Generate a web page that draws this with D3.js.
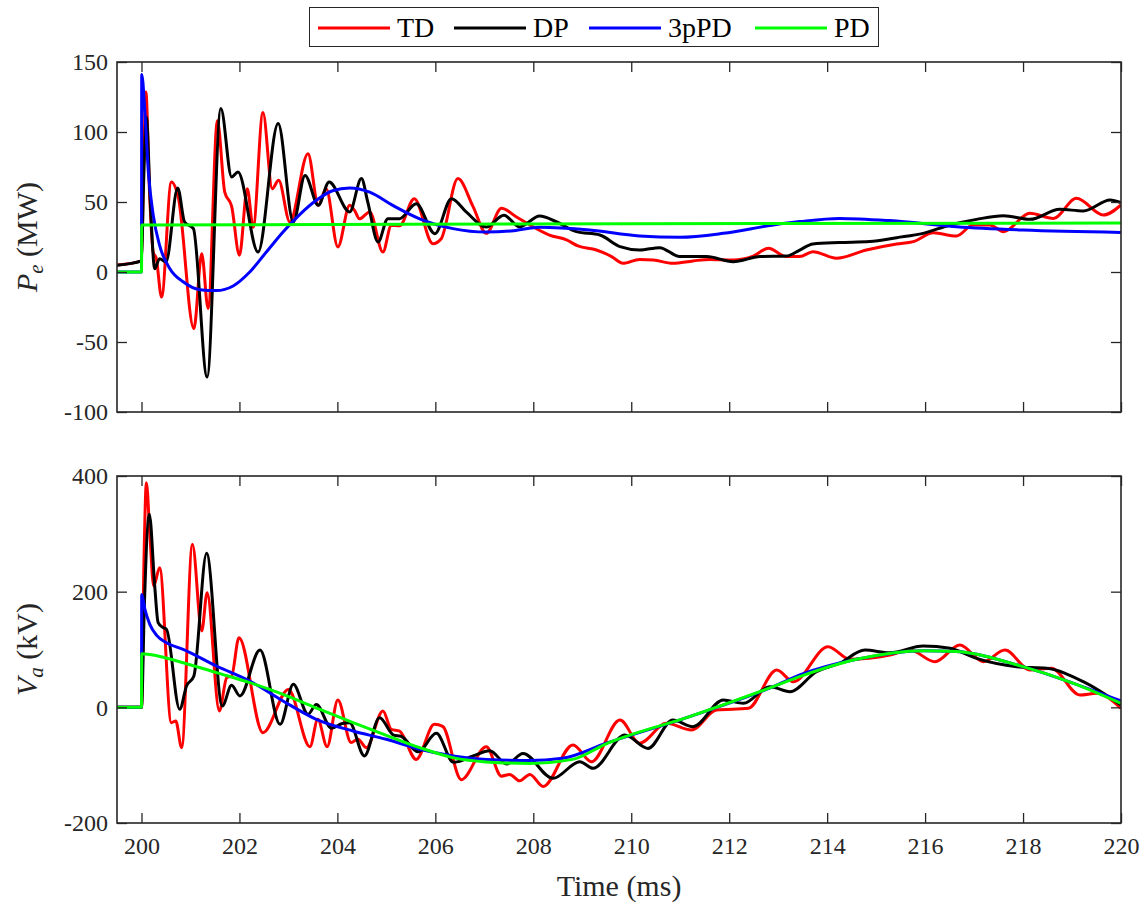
<!DOCTYPE html>
<html>
<head>
<meta charset="utf-8">
<script src="https://cdn.jsdelivr.net/npm/d3@7"></script>
<style>
  body { margin: 0; background: #fff; }
  svg { display: block; }
  .tick text { font-family: "Liberation Serif", serif; font-size: 24px; fill: #262626; }
  .tick line { stroke: #262626; stroke-width: 1.3; }
</style>
</head>
<body>
<svg id="chart"></svg>
<script>
// series names and colours, in legend order
var seriesNames = ["TD", "DP", "3pPD", "PD"];
var seriesColors = ["#ff0000", "#000000", "#0000ff", "#00ff00"];

// axis ticks
var timeTicks = [200, 202, 204, 206, 208, 210, 212, 214, 216, 218, 220];
var peTicks = [-100, -50, 0, 50, 100, 150];
var vaTicks = [-200, 0, 200, 400];

// P_e (MW), [time ms, value]
var tdPe = [[199.5,5],[200,8],[200.04,70],[200.09,128.6],[200.16,60],[200.24,14],[200.3,10],[200.41,-17.9],
  [200.61,64.3],[200.75,53.6],[201.07,-40.5],[201.23,13],[201.36,-26],[201.55,108],[201.7,57],[201.84,47],
  [202.0,12],[202.16,59.5],[202.28,32],[202.48,114],[202.67,59.5],[202.8,65.5],[203.03,35.7],[203.4,84.5],
  [203.61,47.6],[203.77,59.5],[204.01,17.9],[204.25,47.6],[204.35,44],[204.45,38],[204.66,42.9],[204.93,14.3],
  [205.1,33.3],[205.27,33],[205.57,52.4],[205.95,20.2],[206.12,23.8],[206.46,66.7],[206.77,46.7],[207.04,27.6],
  [207.35,45.5],[207.65,39.5],[207.93,33.6],[208.33,26.4],[208.68,22.9],[208.91,18.6],[209.29,15.7],[209.6,11],
  [209.83,6.2],[210.17,9],[210.45,8.6],[210.85,6.2],[211.26,7.9],[211.6,9],[212.08,8.6],[212.49,11.4],
  [212.8,16.9],[213.17,11],[213.44,11],[213.71,14.5],[214.19,9.8],[214.8,15.7],[215.42,20],[215.76,21.7],
  [216.17,28],[216.64,25.7],[216.98,33.6],[217.32,33.6],[217.6,28.8],[218.14,41.9],[218.62,38.3],[219.09,52.6],
  [219.64,40.7],[220,47.9]];
var dpPe = [[199.5,4.8],[200,7.9],[200.04,60],[200.1,110.5],[200.18,50],[200.27,2.4],[200.37,9.5],[200.5,7.1],
  [200.74,60],[200.88,35.7],[201.06,31],[201.34,-75],[201.62,116.7],[201.84,67.9],[201.97,71.4],[202.38,14.3],
  [202.79,106],[203.1,35.7],[203.34,69],[203.61,47.6],[203.83,64.3],[204.25,42.9],[204.49,66.7],[204.62,50],
  [204.83,21.4],[205.03,38.1],[205.27,38.1],[205.61,48.8],[205.99,27.4],[206.33,52.4],[206.63,42.9],[207.04,32.1],
  [207.4,40.6],[207.72,32.2],[208.13,40],[208.47,35.9],[208.88,28.8],[209.36,26.4],[209.77,18.1],[210.17,15.7],
  [210.58,17.4],[210.99,11],[211.54,11],[212.08,7.4],[212.63,11],[213.17,11.4],[213.44,15.7],[213.71,20],
  [214.25,21],[214.87,21.7],[215.42,24.5],[215.96,27.6],[216.51,33.6],[217.05,37.6],[217.6,40.2],[218.14,37.6],
  [218.75,44.8],[219.23,43.6],[219.78,51.4],[220,49.5]];
var ppdPe = [[199.5,0],[200,0],[200.005,141],[200.07,114],[200.14,71.4],[200.24,40.5],[200.37,19],[200.58,2.4],
  [200.85,-7],[201.19,-12.6],[201.53,-13.3],[201.87,-10],[202.21,0],[202.55,14.3],[202.89,28.6],[203.23,41],
  [203.57,51.2],[203.9,58],[204.25,60],[204.66,57],[205.13,47.6],[205.68,38],[206.36,31],[207.04,28.5],
  [207.6,29.5],[208.13,32],[209.15,30],[210.17,25.7],[210.99,24.8],[211.88,27.6],[212.9,33.6],[213.44,36],
  [214.25,38.3],[215.28,36.7],[216.64,32.4],[218,30],[220,28.3]];
var pdPe = [[199.5,0],[200,0],[200.005,33.5],[210,34.5],[220,35]];

// V_a (kV), [time ms, value]
var tdVa = [[199.5,0],[200,0],[200.05,250],[200.1,388.5],[200.17,300],[200.25,210],[200.37,241.5],[200.61,-26.5],
  [200.7,-23.6],[200.82,-69.7],[201.04,281.8],[201.23,132],[201.34,198.3],[201.59,-6.3],[201.74,51.3],
  [201.84,54.2],[201.99,120.5],[202.48,-43.8],[203.0,31],[203.44,-68],[203.6,-20.7],[203.79,-68],[204.01,12.7],
  [204.28,-61],[204.42,-55],[204.59,-69.7],[204.93,-6.3],[205.1,-38],[205.27,-41],[205.61,-90],[205.98,-29.4],
  [206.15,-33],[206.53,-125],[207.04,-68],[207.35,-119],[207.52,-116],[207.72,-127],[207.93,-116],[208.2,-137],
  [208.81,-65],[209.19,-94],[209.77,-22],[210.17,-62],[210.72,-27.6],[211.23,-39],[211.74,-4.6],[212.39,-1.7],
  [212.97,64.5],[213.31,44.3],[214.02,104.9],[214.46,83],[215.28,90.5],[215.69,99],[216.2,78.9],[216.71,107.8],
  [217.19,78.9],[217.63,99],[218.14,64.6],[218.58,67.5],[219.16,21.3],[219.5,24.2],[220,-1.7]];
var dpVa = [[199.5,0],[200,0],[200.06,180],[200.16,333.7],[200.27,210],[200.34,146.4],[200.44,137.8],[200.51,135],
  [200.78,-3.5],[200.92,36.9],[201.07,54.2],[201.33,266.3],[201.65,2.3],[201.84,38],[202.01,19.6],[202.42,99],
  [202.83,-29.4],[203.1,39.8],[203.4,-12.1],[203.57,5],[203.88,-36],[204.1,-28],[204.25,-26.5],[204.55,-84],
  [204.86,-18],[205.15,-48],[205.3,-50],[205.65,-77],[206.02,-45],[206.37,-95],[206.77,-84],[207.11,-75],
  [207.46,-98],[207.79,-80],[208.4,-122.8],[208.95,-94],[209.22,-105.5],[209.87,-47.9],[210.34,-71],[210.85,-22],
  [211.26,-33.5],[211.88,12.7],[212.29,7],[212.83,35.7],[213.24,27],[213.78,61.6],[214.25,76],[214.77,99],
  [215.28,94.4],[215.96,106],[216.51,102],[217.05,84.6],[217.87,70.3],[218.48,67.5],[219.23,44.3],[220,4]];
var ppdVa = [[199.5,0],[200,0],[200.005,195],[200.07,169.4],[200.17,143.5],[200.31,124.5],[200.51,111.8],
  [200.85,100.3],[201.53,71.5],[202.21,45.5],[202.89,11],[203.57,-20.7],[204.32,-41],[205.0,-55.3],[205.68,-72.6],
  [206.36,-84],[207.04,-90],[207.9,-92],[208.6,-88],[209.49,-62],[211.19,-16],[212.9,35.7],[213.44,55.9],
  [214.6,83],[215.96,98],[216.64,96.4],[218.0,70.3],[219.03,41.5],[220,11]];
var pdVa = [[199.5,0],[200,0],[200.005,92.8],[200.85,77.2],[201.53,60],[202.21,42.7],[202.89,22.5],[203.64,-3.5],
  [204.32,-26.5],[205.0,-48.4],[205.68,-69.7],[206.36,-87],[207.04,-94.5],[207.93,-97],[208.8,-90],[209.49,-63],
  [211.19,-16],[212.9,35.7],[213.44,53],[214.6,83],[215.96,98],[216.64,96.4],[218.0,70.3],[219.03,41.5],[220,7]];

var width = 1147, height = 905;
var serif = "'Liberation Serif', serif";
var axisColor = "#262626";

svg = d3.select("#chart").attr("width", width).attr("height", height);

x = d3.scaleLinear().domain([199.5, 220]).range([117, 1121]);

// panels
panels = [
  { y: d3.scaleLinear().domain([-100, 150]).range([412, 62]), ticks: peTicks,
    series: [tdPe, dpPe, ppdPe, pdPe], label: ["P", "e", " (MW)"], xlabels: false },
  { y: d3.scaleLinear().domain([-200, 400]).range([823, 476]), ticks: vaTicks,
    series: [tdVa, dpVa, ppdVa, pdVa], label: ["V", "a", " (kV)"], xlabels: true }
];

line = function(y) {
  return d3.line()
    .x( (d) => x(d[0]) )
    .y( (d) => y(d[1]) )
    .curve(d3.curveMonotoneX);
};

panels.forEach(function(p, i) {
  var top = p.y.range()[1], bot = p.y.range()[0];
  var left = x.range()[0], right = x.range()[1];

  svg.append("clipPath").attr("id", "clip" + i)
    .append("rect")
      .attr("x", left).attr("y", top)
      .attr("width", right - left).attr("height", bot - top);

  // curves
  var g = svg.append("g").attr("clip-path", "url(#clip" + i + ")");
  p.series.forEach(function(s, k) {
    g.append("path")
      .datum(s)
      .attr("d", line(p.y))
      .attr("fill", "none")
      .attr("stroke", seriesColors[k])
      .attr("stroke-width", 3)
      .attr("stroke-linejoin", "round");
  });

  // axes, ticks pointing inward
  var ax = [
    svg.append("g").attr("transform", "translate(0," + bot + ")")
      .call(d3.axisBottom(x).tickValues(timeTicks).tickSize(-10).tickPadding(14)
        .tickFormat(p.xlabels ? d3.format("d") : "")),
    svg.append("g").attr("transform", "translate(0," + top + ")")
      .call(d3.axisTop(x).tickValues(timeTicks).tickSize(-10).tickFormat("")),
    svg.append("g").attr("transform", "translate(" + left + ",0)")
      .call(d3.axisLeft(p.y).tickValues(p.ticks).tickSize(-10).tickPadding(9)
        .tickFormat( (d) => d < 0 ? "-" + Math.abs(d) : d )),
    svg.append("g").attr("transform", "translate(" + right + ",0)")
      .call(d3.axisRight(p.y).tickValues(p.ticks).tickSize(-10).tickFormat(""))
  ];
  ax.forEach( (a) => a.select(".domain").remove() );

  svg.append("rect")
    .attr("x", left).attr("y", top)
    .attr("width", right - left).attr("height", bot - top)
    .attr("fill", "none")
    .attr("stroke", axisColor)
    .attr("stroke-width", 1.6);

  // y label
  var lab = svg.append("text")
    .attr("transform", "translate(37," + ((top + bot) / 2) + ") rotate(-90)")
    .attr("text-anchor", "middle")
    .attr("font-family", serif)
    .attr("font-size", 30)
    .attr("fill", axisColor);
  lab.append("tspan").attr("font-style", "italic").text(p.label[0]);
  lab.append("tspan").attr("font-style", "italic").attr("font-size", 21)
    .attr("dy", 6).text(p.label[1]);
  lab.append("tspan").attr("dy", -6).text(p.label[2]);
});

// x label
svg.append("text")
  .attr("x", (x.range()[0] + x.range()[1]) / 2)
  .attr("y", 896)
  .attr("text-anchor", "middle")
  .attr("font-family", serif)
  .attr("font-size", 30)
  .attr("fill", axisColor)
  .text("Time (ms)");

// legend
legend = svg.append("g");
legend.append("rect")
  .attr("x", 309.5).attr("y", 7.5)
  .attr("width", 569).attr("height", 39)
  .attr("fill", "#fff")
  .attr("stroke", axisColor)
  .attr("stroke-width", 1);
var legX = [318, 454, 589, 755];
seriesNames.forEach(function(n, k) {
  legend.append("line")
    .attr("x1", legX[k]).attr("x2", legX[k] + 72)
    .attr("y1", 28).attr("y2", 28)
    .attr("stroke", seriesColors[k])
    .attr("stroke-width", 3);
  legend.append("text")
    .attr("x", legX[k] + 79)
    .attr("y", 37)
    .attr("font-family", serif)
    .attr("font-size", 28)
    .attr("fill", "#000")
    .text(n);
});
</script>
</body>
</html>
